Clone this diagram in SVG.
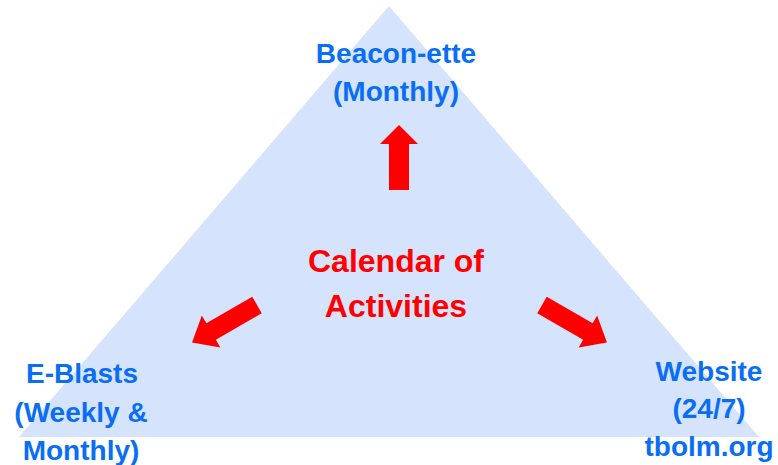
<svg xmlns="http://www.w3.org/2000/svg" width="778" height="465" viewBox="0 0 778 465">
<defs>
<style>
.lbl{font-family:"Liberation Sans",Arial,sans-serif;font-weight:bold;font-size:28px;fill:#0A6EF5;text-anchor:middle}
.ctr{font-family:"Liberation Sans",Arial,sans-serif;font-weight:bold;font-size:32px;fill:#FF0000;text-anchor:middle}
.arr{fill:#FF0000}
</style>
</defs>
<rect width="778" height="465" fill="#FFFFFF"/>
<g id="triangle"><polygon points="389,6 759,437 19,437" fill="#D5E3FC"/></g>
<g id="center"><text class="ctr" x="396" y="272">Calendar of</text><text class="ctr" x="396" y="317">Activities</text></g>
<g id="connectors">
<path class="arr" transform="translate(399,190) rotate(-90)" d="M0,-10 L46,-10 L46,-19 L65,0 L46,19 L46,10 L0,10 Z"/>
<path class="arr" transform="translate(257,305) rotate(150)" d="M0,-9.5 L53,-9.5 L53,-18.5 L75,0 L53,18.5 L53,9.5 L0,9.5 Z"/>
<path class="arr" transform="translate(542,305) rotate(30)" d="M0,-9.5 L53,-9.5 L53,-18.5 L75,0 L53,18.5 L53,9.5 L0,9.5 Z"/>
</g>
<g id="beacon"><text class="lbl" x="396" y="63">Beacon-ette</text><text class="lbl" x="396" y="101">(Monthly)</text></g>
<g id="eblasts"><text class="lbl" x="82" y="383">E-Blasts</text><text class="lbl" x="81" y="422">(Weekly &amp;</text><text class="lbl" x="81" y="460">Monthly)</text></g>
<g id="website"><text class="lbl" x="709" y="381">Website</text><text class="lbl" x="709" y="418">(24/7)</text><text class="lbl" x="709" y="456">tbolm.org</text></g>
</svg>
